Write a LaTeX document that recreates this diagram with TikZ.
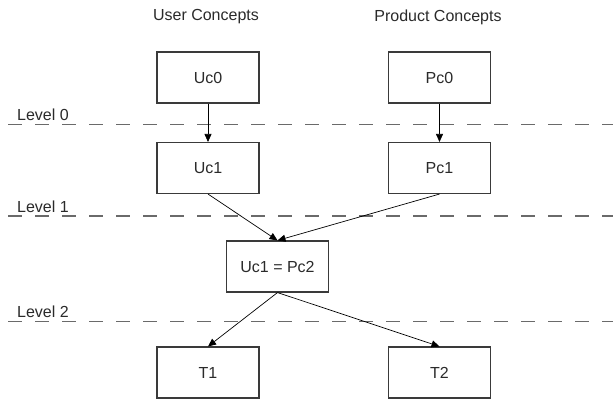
\documentclass[tikz,border=0pt]{standalone}
\usepackage{fontspec}
\setmainfont{Liberation Sans}
\usetikzlibrary{arrows.meta}
\definecolor{boxline}{HTML}{3A3A3A}
\definecolor{txt}{HTML}{2A2A2A}
\definecolor{lvl}{HTML}{6A6A6A}
\begin{document}
\begin{tikzpicture}[x=1pt,y=-1pt,
  conc/.style={draw=boxline, line width=1.1pt, minimum width=102pt, minimum height=51pt, inner sep=0pt, text=txt, font=\fontsize{16}{18}\selectfont},
  title/.style={text=txt, font=\fontsize{16}{18}\selectfont, inner sep=0pt},
  lvltext/.style={text=txt, font=\fontsize{16}{18}\selectfont, inner sep=0pt, anchor=base west},
  lvlline/.style={draw=lvl, line width=1.3pt, dash pattern=on 14pt off 13pt},
  conn/.style={draw=black, line width=0.7pt, -{Triangle[length=8pt,width=7pt]}}]
\useasboundingbox (0,0) rectangle (613,400);
% titles
\node[title] (tu) at (206,17) {User Concepts};
\node[title] (tp) at (438,17) {Product Concepts};
% level lines
\coordinate (l0a) at (8,124.5); \coordinate (l0b) at (613,124.5);
\coordinate (l1a) at (8,216);   \coordinate (l1b) at (613,216);
\coordinate (l2a) at (8,321.5); \coordinate (l2b) at (613,321.5);
\draw[lvlline] (l0a) -- (l0b);
\draw[lvlline] (l1a) -- (l1b);
\draw[lvlline] (l2a) -- (l2b);
\node[lvltext] (lv0) at (17,120.5) {Level 0};
\node[lvltext] (lv1) at (17,212) {Level 1};
\node[lvltext] (lv2) at (17,317.5) {Level 2};
% boxes
\node[conc] (uc0) at (208,77.5) {Uc0};
\node[conc] (pc0) at (439.5,77.5) {Pc0};
\node[conc] (uc1) at (208,168) {Uc1};
\node[conc] (pc1) at (439.5,168) {Pc1};
\node[conc] (mid) at (277.5,266.5) {Uc1 = Pc2};
\node[conc] (t1) at (208,372.5) {T1};
\node[conc] (t2) at (439.5,372.5) {T2};
% connectors
\draw[conn] (uc0.south) -- (uc1.north);
\draw[conn] (pc0.south) -- (pc1.north);
\draw[conn] (uc1.south) -- (mid.north);
\draw[conn] (pc1.south) -- (mid.north);
\draw[conn] (mid.south) -- (t1.north);
\draw[conn] (mid.south) -- (t2.north);
\end{tikzpicture}
\end{document}
